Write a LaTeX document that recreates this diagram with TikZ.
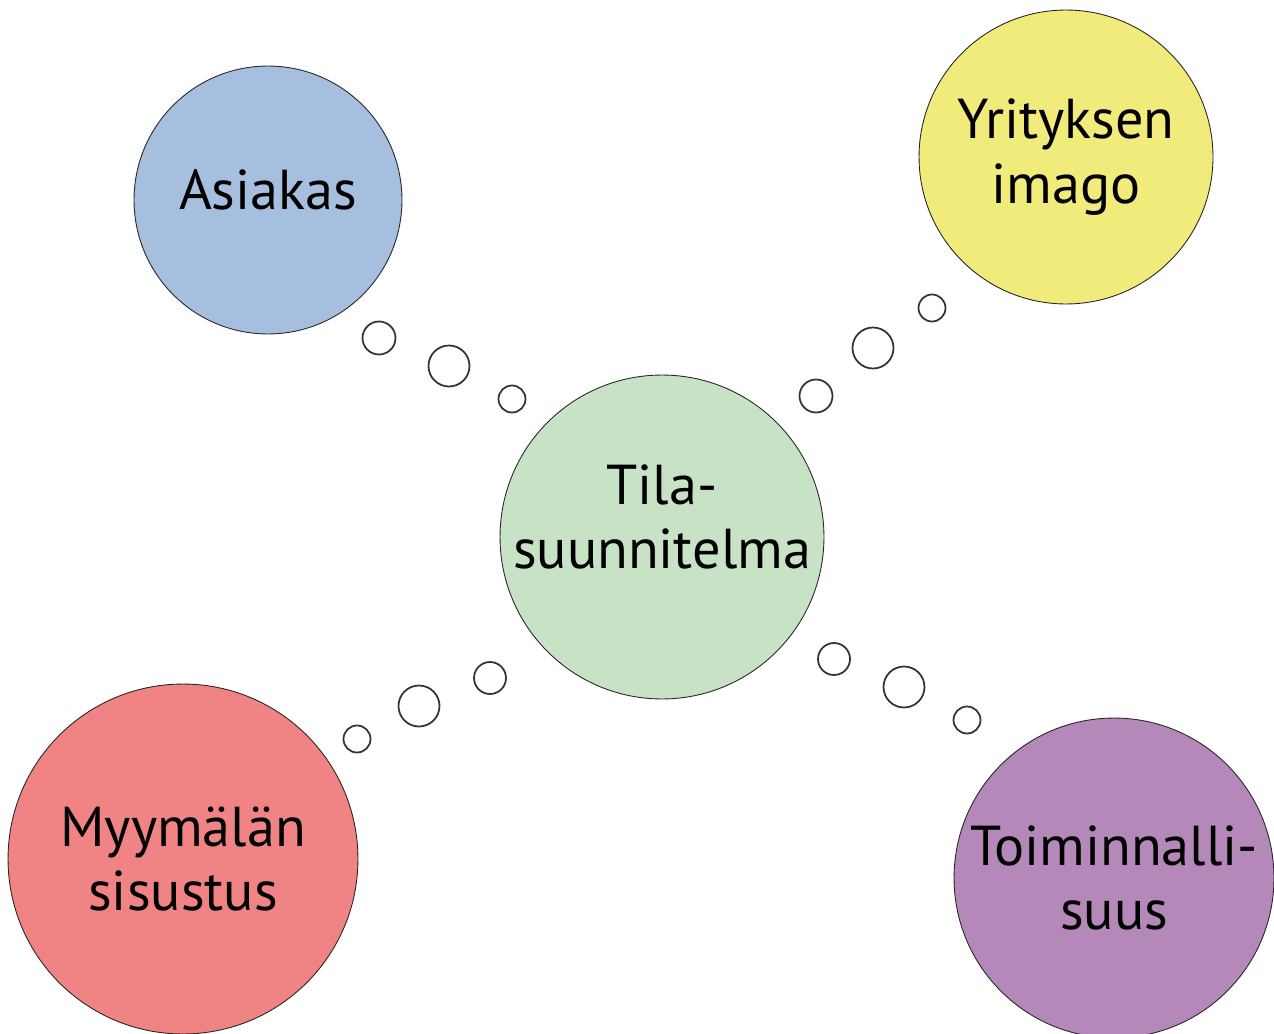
\documentclass[tikz,border=0pt]{standalone}
\usepackage{fontspec}
\setmainfont{PT Sans}
\definecolor{asiakasblue}{RGB}{167,191,222}
\definecolor{imagoyellow}{RGB}{241,235,124}
\definecolor{tilagreen}{RGB}{200,226,197}
\definecolor{sisustusred}{RGB}{240,131,131}
\definecolor{toimintapurple}{RGB}{180,137,185}
\tikzset{
	topic/.style={circle, draw=black!85, line width=0.5pt, inner sep=-1cm, align=center,
		font=\fontsize{32}{36.5}\selectfont},
	bubble/.style={circle, draw=black!80, line width=1pt, inner sep=0pt, fill=white}
}

\begin{document}
\begin{tikzpicture}[x=0.02cm, y=-0.02cm]
				\useasboundingbox[fill=white] (0,0) rectangle (1274,1034);
				
				\node[topic, fill=tilagreen, minimum size=6.48cm, text depth=0.8cm] (tila) at (662,537) {Tila-\\suunnitelma};
				
				\node[topic, fill=asiakasblue, minimum size=5.36cm, text depth=0.4cm] (asiakas) at (268,200) {Asiakas};
				\node[bubble, minimum size=0.66cm] (a1) at (379,338) {};
				\node[bubble, minimum size=0.82cm] (a2) at (449,366) {};
				\node[bubble, minimum size=0.54cm] (a3) at (512,399) {};
				
				\node[topic, fill=imagoyellow, minimum size=5.88cm] (imago) at (1066,157) {Yrityksen\\imago};
				\node[bubble, minimum size=0.66cm] (i1) at (816,396) {};
				\node[bubble, minimum size=0.82cm] (i2) at (873,348) {};
				\node[bubble, minimum size=0.54cm] (i3) at (932,308) {};
				
				\node[topic, fill=sisustusred, minimum size=7.0cm] (sisustus) at (183,859) {Myymälän\\sisustus};
				\node[bubble, minimum size=0.54cm] (s1) at (357,739) {};
				\node[bubble, minimum size=0.82cm] (s2) at (419,706) {};
				\node[bubble, minimum size=0.64cm] (s3) at (490,678) {};
				
				\node[topic, fill=toimintapurple, minimum size=6.4cm] (toiminta) at (1114,878) {Toiminnalli-\\suus};
				\node[bubble, minimum size=0.64cm] (t1) at (834,659) {};
				\node[bubble, minimum size=0.82cm] (t2) at (904,687) {};
				\node[bubble, minimum size=0.54cm] (t3) at (967,720) {};
			\end{tikzpicture}
\end{document}
